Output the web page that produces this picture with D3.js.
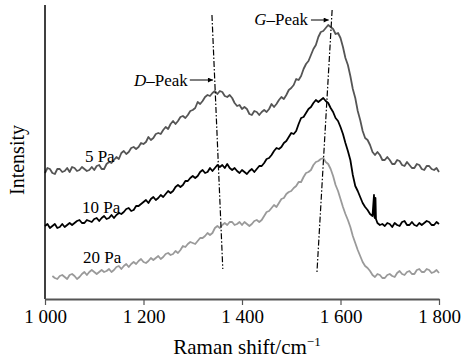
<!DOCTYPE html>
<html>
<head>
<meta charset="utf-8">
<script src="https://cdn.jsdelivr.net/npm/d3@7"></script>
<style>
  body { margin: 0; background: #fff; }
</style>
</head>
<body>
<div id="chart"></div>
<script>
const FONT = '"Liberation Serif", "Times New Roman", "DejaVu Serif", serif';

// Raman shift sample grid, 1000..1800 cm^-1 every 5 cm^-1
const shift = d3.range(1000, 1801, 5);

// intensities (arbitrary units, traces offset as drawn)
const pa5 = [126, 131, 130, 126, 125, 130, 130, 127, 128, 131, 127, 132, 131, 128, 129, 132, 130, 128, 129, 132,
             129, 133, 134, 130, 130, 135, 137, 136, 139, 142, 140, 146, 148, 145, 147, 151, 152, 150, 152, 156,
             155, 157, 162, 159, 161, 165, 166, 165, 169, 172, 170, 175, 178, 175, 178, 182, 183, 181, 184, 188,
             189, 191, 197, 195, 198, 202, 204, 203, 206, 208, 205, 208, 207, 203, 202, 204, 201, 196, 193, 194,
             190, 192, 190, 185, 184, 188, 187, 184, 187, 189, 187, 190, 195, 192, 195, 199, 202, 200, 204, 209,
             211, 214, 220, 219, 223, 230, 235, 238, 244, 250, 254, 262, 267, 268, 271, 274, 272, 270, 265, 266,
             261, 252, 241, 234, 223, 210, 201, 188, 179, 168, 161, 159, 154, 147, 144, 147, 144, 139, 139, 142,
             139, 135, 135, 139, 138, 134, 133, 137, 134, 131, 131, 135, 134, 130, 129, 133, 133, 130, 129, 131, 127];

const pa10 = [73, 75, 71, 73, 75, 71, 72, 75, 72, 74, 76, 74, 76, 78, 79, 76, 76, 79, 78, 77,
              80, 81, 78, 81, 83, 80, 81, 84, 81, 84, 86, 85, 87, 90, 91, 88, 89, 93, 93, 95,
              97, 99, 96, 100, 102, 99, 101, 104, 102, 105, 108, 106, 108, 112, 114, 112, 114, 118, 118, 121,
              123, 121, 123, 127, 129, 126, 127, 131, 128, 131, 134, 132, 134, 131, 135, 131, 129, 131, 128, 126,
              129, 127, 125, 128, 130, 127, 130, 133, 133, 136, 140, 141, 144, 148, 151, 150, 152, 156, 158, 162,
              166, 165, 168, 175, 181, 182, 186, 190, 192, 196, 199, 197, 199, 201, 198, 196, 191, 187, 181, 178,
              172, 165, 156, 148, 139, 124, 113, 108, 102, 96, 92, 89, 85, 83, 81, 76, 74, 75, 73, 76,
              75, 72, 76, 74, 73, 77, 78, 74, 74, 77, 74, 73, 76, 74, 76, 78, 77, 74, 74, 77, 75];

// narrow spike on the 10 Pa trace
const spikeShift = [1668, 1669, 1671, 1672];
const spikeVal = [104, 82, 101, 80];

const pa20 = [null, null, null, 23, 21, 20, 23, 24, 22, 20, 24, 25, 23, 20, 22, 25, 27, 24, 27, 29,
              27, 25, 27, 29, 27, 28, 30, 27, 29, 32, 33, 30, 33, 35, 32, 35, 37, 35, 38, 40,
              37, 36, 38, 41, 39, 41, 43, 40, 42, 45, 46, 44, 45, 48, 46, 49, 53, 52, 55, 57,
              56, 55, 58, 61, 61, 63, 66, 64, 66, 71, 73, 71, 74, 76, 74, 77, 77, 74, 75, 77,
              74, 77, 75, 73, 75, 78, 79, 77, 79, 83, 87, 88, 91, 94, 92, 96, 100, 101, 105, 107,
              108, 111, 113, 117, 117, 122, 126, 127, 129, 134, 137, 138, 140, 141, 137, 135, 130, 123, 114, 108,
              100, 92, 85, 79, 72, 63, 56, 49, 43, 37, 33, 31, 28, 24, 22, 25, 24, 21, 21, 24,
              25, 23, 22, 26, 28, 25, 24, 27, 28, 25, 25, 29, 30, 27, 27, 30, 29, 26, 27, 29, 26];

const xTicks = [1000, 1200, 1400, 1600, 1800];

// peak guide lines [shift, intensity] end points
const dLine = [[1339, 284], [1361, 30]];
const gLine = [[1583, 289], [1552, 25]];

const W = 463, H = 358;
const margin = { top: 5, right: 24, bottom: 59, left: 45 },
      width = W - margin.left - margin.right,
      height = H - margin.top - margin.bottom;

const svg = d3.select('#chart').append('svg')
    .attr('width', W)
    .attr('height', H)
    .attr('font-family', FONT);

svg.append('defs').append('marker')
    .attr('id', 'arr')
    .attr('viewBox', '0 0 10 10')
    .attr('refX', 10).attr('refY', 5)
    .attr('markerWidth', 7).attr('markerHeight', 5)
    .attr('markerUnits', 'userSpaceOnUse')
    .attr('orient', 'auto')
    .append('path').attr('d', 'M0,0L10,5L0,10Z').attr('fill', '#000');

const g = svg.append('g')
    .attr('transform', 'translate(' + margin.left + ',' + margin.top + ')');

const x = d3.scaleLinear().domain([1000, 1800]).range([0, width]);
const y = d3.scaleLinear().domain([0, 294]).range([height, 0]);

const line = d3.line()
    .defined(d => d[1] != null)
    .x(d => x(d[0]))
    .y(d => y(d[1]));

const s5 = shift.map((s, i) => [s, pa5[i]]);
const s10 = shift.map((s, i) => [s, pa10[i]])
    .concat(spikeShift.map((s, i) => [s, spikeVal[i]]))
    .sort((a, b) => a[0] - b[0]);
const s20 = shift.map((s, i) => [s, pa20[i]]);

[[s20, '#9a9a9a'], [s10, '#000000'], [s5, '#555555']].forEach(([data, col]) => {
    g.append('path')
        .datum(data)
        .attr('fill', 'none')
        .attr('stroke', col)
        .attr('stroke-width', 1.8)
        .attr('stroke-linejoin', 'round')
        .attr('d', line);
});

// peak guide lines
[dLine, gLine].forEach(pts => {
    g.append('path')
        .datum(pts)
        .attr('fill', 'none')
        .attr('stroke', '#000')
        .attr('stroke-width', 1.2)
        .attr('stroke-dasharray', '6,2,1.5,2')
        .attr('d', line);
});

// y axis: plain line, no ticks
g.append('line')
    .attr('x1', 0).attr('x2', 0)
    .attr('y1', 0).attr('y2', height)
    .attr('stroke', '#000')
    .attr('stroke-width', 1.5);

// x axis
const xAxis = g.append('g')
    .attr('transform', 'translate(0,' + height + ')')
    .call(d3.axisBottom(x).tickValues(xTicks).tickSize(6).tickSizeOuter(0)
        .tickFormat(d => d3.format(',')(d).replace(',', ' ')));
xAxis.attr('font-family', FONT);
xAxis.select('.domain').attr('stroke', '#555').attr('stroke-width', 2.2);
xAxis.selectAll('.tick line').attr('stroke', '#555').attr('stroke-width', 1.2);
xAxis.selectAll('.tick text')
    .attr('y', 24).attr('dy', 0)
    .attr('font-family', FONT)
    .attr('font-size', 19)
    .attr('fill', '#000');

// axis titles
const xt = g.append('text')
    .attr('x', width / 2 + 5)
    .attr('y', height + 55)
    .attr('text-anchor', 'middle')
    .attr('font-family', FONT)
    .attr('font-size', 21);
xt.append('tspan').text('Raman shift/cm');
xt.append('tspan').attr('dy', -8).attr('font-size', 13).text('\u22121');

g.append('text')
    .attr('transform', 'translate(' + (-21) + ',' + (height / 2 + 8) + ') rotate(-90)')
    .attr('text-anchor', 'middle')
    .attr('font-family', FONT)
    .attr('font-size', 20)
    .text('Intensity');

// series labels
const seriesLabels = [['5 Pa', 1081, 137], ['10 Pa', 1075, 86], ['20 Pa', 1077, 36]];
seriesLabels.forEach(([t, sx, sy]) => {
    g.append('text')
        .attr('x', x(sx)).attr('y', y(sy))
        .attr('font-family', FONT)
        .attr('font-size', 17)
        .text(t);
});

// peak labels with arrows
const peaks = [
    { name: 'D', tx: 1290, ty: 213, a0: 1294, a1: 1341, ay: 219 },
    { name: 'G', tx: 1534, ty: 274, a0: 1540, a1: 1576, ay: 279 }
];
peaks.forEach(p => {
    const t = g.append('text')
        .attr('x', x(p.tx)).attr('y', y(p.ty))
        .attr('text-anchor', 'end')
        .attr('font-family', FONT)
        .attr('font-size', 17);
    t.append('tspan').attr('font-style', 'italic').text(p.name);
    t.append('tspan').text('\u2013Peak');
    g.append('line')
        .attr('x1', x(p.a0)).attr('x2', x(p.a1))
        .attr('y1', y(p.ay)).attr('y2', y(p.ay))
        .attr('stroke', '#000')
        .attr('stroke-width', 1)
        .attr('marker-end', 'url(#arr)');
});
</script>
</body>
</html>
